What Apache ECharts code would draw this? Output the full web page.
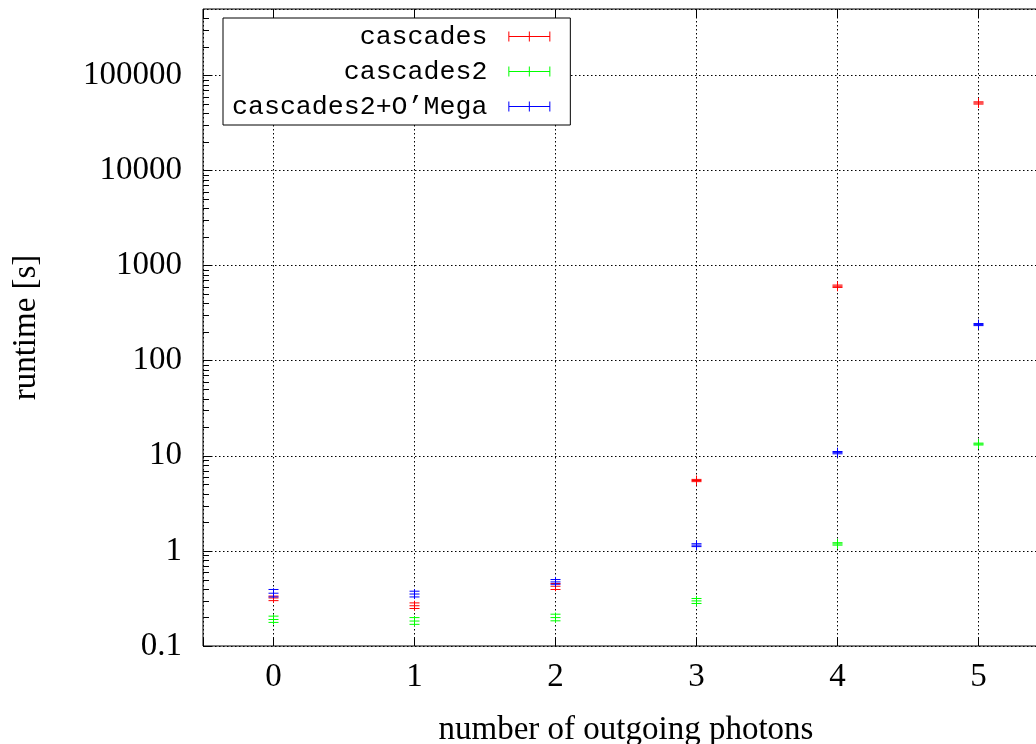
<!DOCTYPE html>
<html><head><meta charset="utf-8">
<script src="https://cdn.jsdelivr.net/npm/echarts@6/dist/echarts.min.js"></script>
<style>html,body{margin:0;padding:0;background:#fff}#c{width:1036px;height:744px}</style>
</head><body><div id="c"></div>
<script>
// ---- data ----
const photons = [0, 1, 2, 3, 4, 5];
const cascadesMid  = [0.32, 0.265, 0.425, 5.5, 607, 51400];
const cascadesLow  = [0.30, 0.248, 0.393, 5.35, 590, 50000];
const cascadesHigh = [0.335, 0.284, 0.454, 5.65, 625, 52800];
const cascades2Mid  = [0.19, 0.183, 0.199, 0.298, 1.185, 13.3];
const cascades2Low  = [0.177, 0.169, 0.184, 0.28, 1.15, 13.0];
const cascades2High = [0.206, 0.199, 0.216, 0.316, 1.22, 13.6];
const omegaMid  = [0.359, 0.352, 0.472, 1.15, 10.8, 240];
const omegaLow  = [0.328, 0.328, 0.446, 1.11, 10.5, 234];
const omegaHigh = [0.393, 0.377, 0.50, 1.19, 11.1, 246];
const seriesNames = ['cascades', 'cascades2', 'cascades2+O\u2019Mega'];
const seriesColors = ['#ff0000', '#00ff00', '#0000ff'];
const decades = [0.1, 1, 10, 100, 1000, 10000, 100000];
const minorMultipliers = [2, 3, 4, 5, 6, 7, 8, 9];
const yMin = 0.1, yMax = 500000;
const xMin = -0.5, xMax = 5.5;

// ---- build ----
function rows(mid, lo, hi) {
  return photons.map((x, i) => [x, mid[i], lo[i], hi[i]]);
}
const minorTicks = [];
decades.forEach(d => minorMultipliers.forEach(m => { const v = d * m; if (v < yMax) minorTicks.push([0, v]); }));

const serif = 'Liberation Serif';
const mono = 'Liberation Mono';

function errRender(params, api) {
  const x = api.value(0), yc = api.value(1), lo = api.value(2), hi = api.value(3);
  const pc = api.coord([x, yc]), pl = api.coord([x, lo]), ph = api.coord([x, hi]);
  const style = { stroke: api.visual('color'), lineWidth: 1 };
  const h = 5, p = 5;
  return { type: 'group', children: [
    { type: 'line', shape: { x1: pl[0], y1: pl[1], x2: ph[0], y2: ph[1] }, style },
    { type: 'line', shape: { x1: pl[0] - h, y1: pl[1], x2: pl[0] + h, y2: pl[1] }, style },
    { type: 'line', shape: { x1: ph[0] - h, y1: ph[1], x2: ph[0] + h, y2: ph[1] }, style },
    { type: 'line', shape: { x1: pc[0] - p, y1: pc[1], x2: pc[0] + p, y2: pc[1] }, style },
    { type: 'line', shape: { x1: pc[0], y1: pc[1] - p, x2: pc[0], y2: pc[1] + p }, style }
  ]};
}
function minorRender(params, api) {
  const v = api.value(1);
  const c0 = api.coord([0, v]);
  const c1 = api.coord([1, v]);
  const left = c0[0] + xMin * (c1[0] - c0[0]);
  const y = Math.round(c0[1]) + 0.5;
  return { type: 'line', shape: { x1: left, y1: y, x2: left + 6, y2: y }, style: { stroke: '#000', lineWidth: 1 } };
}

const legendIcon = 'path://M0,0H1V10H0ZM41,0H42V10H41ZM0,4.5H42V5.5H0ZM20.5,0H21.5V10H20.5Z';
const dataSets = [rows(cascadesMid, cascadesLow, cascadesHigh), rows(cascades2Mid, cascades2Low, cascades2High), rows(omegaMid, omegaLow, omegaHigh)];

const option = {
  backgroundColor: '#fff',
  animation: false,
  grid: { left: 203, top: 9, width: 846, height: 637, outerBoundsMode: 'none', containLabel: false,
    show: true, borderColor: '#000', borderWidth: 1, backgroundColor: 'transparent' },
  legend: {
    orient: 'vertical', align: 'right', left: 223, top: 18,
    backgroundColor: '#fff', borderColor: '#000', borderWidth: 1,
    padding: [2, 20, 2, 9], itemGap: 2, itemWidth: 42, itemHeight: 10,
    textStyle: { fontFamily: mono, fontSize: 26.6, color: '#000', lineHeight: 33, padding: [0, 16, 0, 0] },
    data: seriesNames.map(n => ({ name: n, icon: legendIcon })),
    selectedMode: false
  },
  xAxis: [{
    type: 'value', min: xMin, max: xMax, splitNumber: 6,
    name: 'number of outgoing photons', nameLocation: 'middle', nameGap: 68,
    nameTextStyle: { fontFamily: serif, fontSize: 33, color: '#000' },
    axisLine: { show: false },
    axisTick: { inside: true, length: 9, lineStyle: { color: '#000' } },
    axisLabel: { fontFamily: serif, fontSize: 33, color: '#000', margin: 15,
      formatter: v => Number.isInteger(v) ? String(v) : '' },
    splitLine: { show: true, lineStyle: { color: '#000', type: [1.5, 2.5], width: 1 } }
  }, {
    type: 'value', min: xMin, max: xMax, splitNumber: 6, position: 'top',
    axisLine: { show: false },
    axisTick: { inside: true, length: 9, lineStyle: { color: '#000' } },
    axisLabel: { show: false }, splitLine: { show: false }
  }],
  yAxis: {
    type: 'log', logBase: 10, min: yMin, max: yMax, interval: 1,
    name: 'runtime [s]', nameLocation: 'middle', nameGap: 160,
    nameTextStyle: { fontFamily: serif, fontSize: 33, color: '#000' },
    axisLine: { show: false, onZero: false },
    axisTick: { inside: true, length: 9, lineStyle: { color: '#000' } },
    axisLabel: { fontFamily: serif, fontSize: 33, color: '#000', margin: 21, showMaxLabel: false,
      formatter: v => String(v) },
    splitLine: { show: true, lineStyle: { color: '#000', type: [1.5, 2.5], width: 1 } }
  },
  series: [
    ...seriesNames.map((n, i) => ({
      type: 'custom', name: n, renderItem: errRender, data: dataSets[i],
      itemStyle: { color: seriesColors[i] },
      encode: { x: 0, y: [1, 2, 3] }, z: 10
    })),
    { type: 'custom', name: 'minor', renderItem: minorRender, data: minorTicks, encode: { x: 0, y: 1 }, z: 5, clip: false, silent: true }
  ]
};
echarts.init(document.getElementById('c'), null, { renderer: 'canvas' }).setOption(option);
</script></body></html>
